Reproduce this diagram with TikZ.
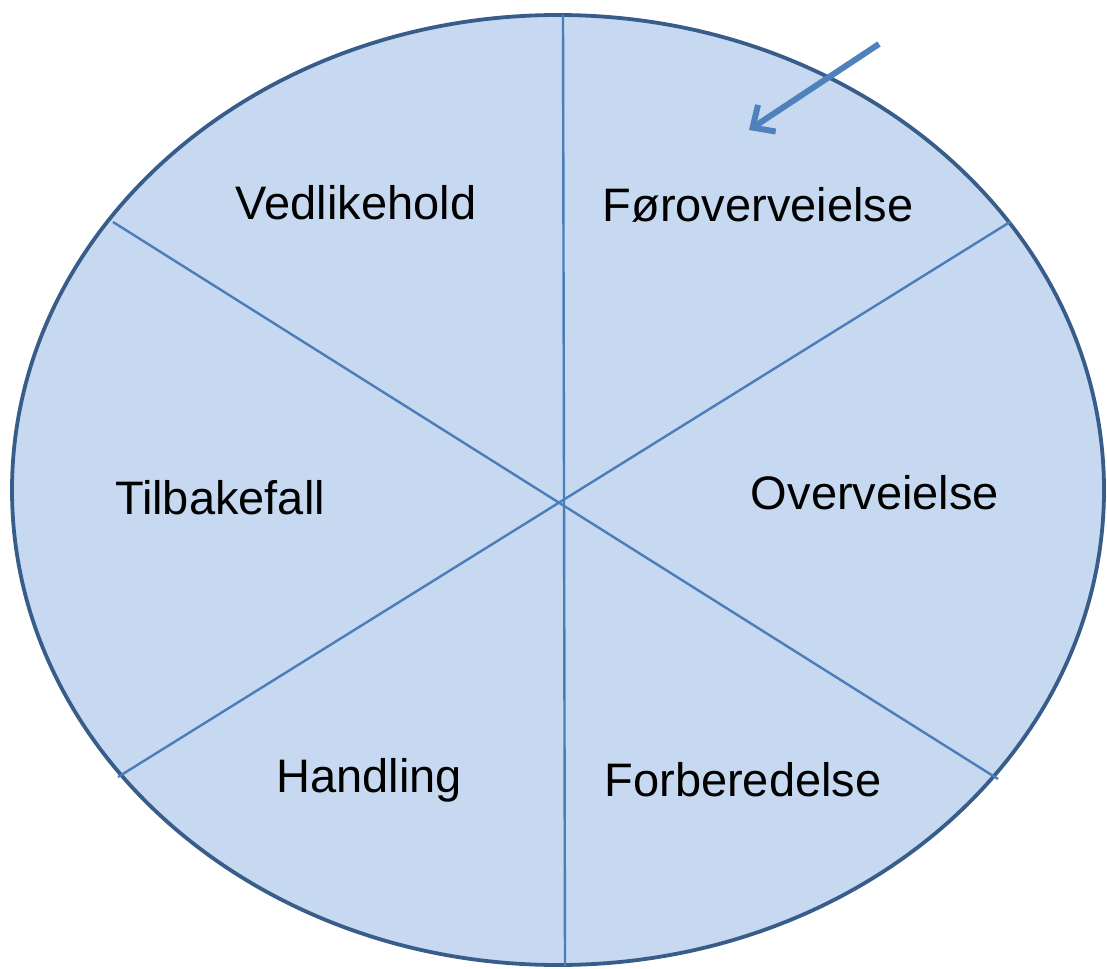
\documentclass[tikz,border=0pt]{standalone}
\usepackage{fontspec}
\setmainfont{Liberation Sans}
\usetikzlibrary{arrows.meta}
\definecolor{fillblue}{HTML}{C6D9F1}
\definecolor{edgeblue}{HTML}{385D8A}
\definecolor{lineblue}{HTML}{4A7EBB}
\definecolor{arrowblue}{HTML}{4F81BD}
\begin{document}
\begin{tikzpicture}[x=1pt,y=-1pt,
  lbl/.style={font=\fontsize{47}{51}\selectfont, text=black, inner sep=0pt, anchor=center},
  divider/.style={draw=lineblue, line width=2.4pt}]
\useasboundingbox (0,0) rectangle (1107,968);
\draw[fill=fillblue, draw=edgeblue, line width=3.8pt] (558,490) ellipse [x radius=546, y radius=475];
\coordinate (c) at (562,502);
\coordinate (top) at (563,15);
\coordinate (bot) at (565,966);
\coordinate (ul) at (113,222);
\coordinate (lr) at (998,779);
\coordinate (ur) at (1010,222);
\coordinate (ll) at (118,777);
\draw[divider] (top) -- (bot);
\draw[divider] (ul) -- (lr);
\draw[divider] (ur) -- (ll);
\coordinate (as) at (879,44);
\coordinate (ae) at (749,130);
\draw[draw=arrowblue, line width=6pt, -{Straight Barb[length=17pt,width=32pt,line width=6pt]}] (as) -- (ae);
\node[lbl] (v) at (356,203) {Vedlikehold};
\node[lbl] (f) at (758,205) {Føroverveielse};
\node[lbl] (t) at (220,498) {Tilbakefall};
\node[lbl] (o) at (875,493) {Overveielse};
\node[lbl] (h) at (369,780) {Handling};
\node[lbl] (fb) at (743,780) {Forberedelse};
\end{tikzpicture}
\end{document}
